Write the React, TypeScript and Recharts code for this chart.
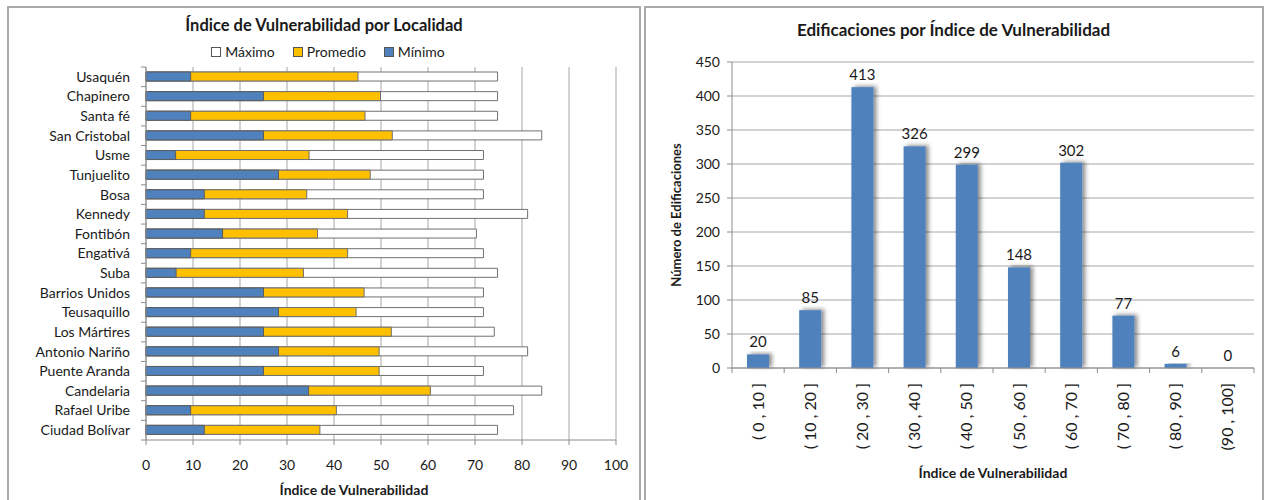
import { BarChart, Bar, XAxis, YAxis, CartesianGrid, LabelList } from "recharts";

// Índice de vulnerabilidad por localidad (mínimo, promedio y máximo)
const localidades = [
  "Usaquén", "Chapinero", "Santa fé", "San Cristobal", "Usme", "Tunjuelito", "Bosa",
  "Kennedy", "Fontibón", "Engativá", "Suba", "Barrios Unidos", "Teusaquillo",
  "Los Mártires", "Antonio Nariño", "Puente Aranda", "Candelaria", "Rafael Uribe", "Ciudad Bolívar",
];
const maximo = [74.8, 74.8, 74.8, 84.2, 71.8, 71.8, 71.8, 81.2, 70.3, 71.8, 74.8, 71.8, 71.8, 74.1, 81.2, 71.8, 84.2, 78.2, 74.8];
const promedio = [45.1, 49.9, 46.6, 52.4, 34.7, 47.7, 34.2, 42.9, 36.5, 42.9, 33.5, 46.4, 44.7, 52.2, 49.6, 49.6, 60.5, 40.5, 37.0];
const minimo = [9.5, 25.0, 9.5, 25.0, 6.3, 28.2, 12.4, 12.4, 16.3, 9.5, 6.4, 25.0, 28.2, 25.0, 28.2, 25.0, 34.6, 9.5, 12.4];
const indiceTicks = [0, 10, 20, 30, 40, 50, 60, 70, 80, 90, 100];

// Número de edificaciones por rango del índice
const rangos = [
  "( 0 , 10 ]", "( 10 , 20 ]", "( 20 , 30 ]", "( 30 , 40 ]", "( 40 , 50 ]",
  "( 50 , 60 ]", "( 60 , 70 ]", "( 70 , 80 ]", "( 80 , 90 ]", "(90 , 100]",
];
const edificaciones = [20, 85, 413, 326, 299, 148, 302, 77, 6, 0];
const conteoTicks = [0, 50, 100, 150, 200, 250, 300, 350, 400, 450];

const localData = localidades.map((nombre, i) => ({
  nombre,
  maximo: maximo[i],
  promedio: promedio[i],
  minimo: minimo[i],
}));
const rangoData = rangos.map((rango, i) => ({ rango, total: edificaciones[i] }));

const FONT = "Lato, 'Open Sans', sans-serif";
const TEXT = "#1a1a1a";
const GRID = "#a6a6a6";
const AXIS = "#8c8c8c";
const AZUL = "#4F81BD";
const AMARILLO = "#FFC000";

// geometry of the left chart
const L_W = 632;
const L_H = 493;
const L_TOP = 60;
const L_AXIS_W = 138;
const L_RIGHT = 24;
const L_XAXIS_H = 56;
const L_BOTTOM = 4;
const L_BAND = (L_H - L_TOP - L_XAXIS_H - L_BOTTOM) / localidades.length;
const L_TICK_MARGIN = 16;

// geometry of the right chart
const R_W = 617;
const R_H = 493;
const R_TOP = 55;
const R_AXIS_W = 87;
const R_RIGHT = 8;
const R_XAXIS_H = 110;
const R_BOTTOM = 22;
const R_BAND = (R_W - R_AXIS_W - R_RIGHT) / rangos.length;
const R_TICK_MARGIN = 15;

// category label plus the small tick marks between categories
const LocalidadTick = (props: any) => {
  const { x, y, payload, index } = props;
  const ax = x + L_TICK_MARGIN;
  const last = index === localidades.length - 1;
  return (
    <g>
      <text x={x} y={y} dy="0.35em" textAnchor="end" fontSize={14} fill={TEXT} fontFamily={FONT}>
        {payload.value}
      </text>
      <line x1={ax - 5} x2={ax} y1={y - L_BAND / 2} y2={y - L_BAND / 2} stroke={AXIS} />
      {last && <line x1={ax - 5} x2={ax} y1={y + L_BAND / 2} y2={y + L_BAND / 2} stroke={AXIS} />}
    </g>
  );
};

const RangoTick = (props: any) => {
  const { x, y, payload, index } = props;
  const ay = y - R_TICK_MARGIN;
  const last = index === rangos.length - 1;
  return (
    <g>
      <line x1={x - R_BAND / 2} x2={x - R_BAND / 2} y1={ay} y2={ay + 5} stroke={AXIS} />
      {last && <line x1={x + R_BAND / 2} x2={x + R_BAND / 2} y1={ay} y2={ay + 5} stroke={AXIS} />}
      <text
        x={x}
        y={y}
        dy="0.35em"
        textAnchor="end"
        transform={`rotate(-90, ${x}, ${y})`}
        fontSize={16}
        fill={TEXT}
        fontFamily={FONT}
      >
        {payload.value}
      </text>
    </g>
  );
};

const SombraBar = (props: any) => {
  const { x, y, width, height, fill } = props;
  if (!height) return null;
  return <rect x={x} y={y} width={width} height={height} fill={fill} filter="url(#sombra)" />;
};

const legendItems = [
  { name: "Máximo", color: "#ffffff" },
  { name: "Promedio", color: AMARILLO },
  { name: "Mínimo", color: AZUL },
];

const panel = (left: number, width: number): React.CSSProperties => ({
  position: "absolute",
  left,
  top: 6,
  width,
  height: 520,
  border: "2px solid #a9a9a9",
  boxSizing: "border-box",
  background: "#fff",
});

const axisTitle = { fontSize: 14, fontWeight: 700, fill: TEXT, fontFamily: FONT };

export default function App() {
  return (
    <div style={{ position: "fixed", left: 0, top: 0, width: 1268, height: 500, overflow: "hidden", background: "#fff", fontFamily: FONT }}>
      <div style={panel(7, 634)} />
      <div style={panel(644, 620)} />

      <div style={{ position: "absolute", left: 8, top: 15, width: L_W, textAlign: "center", fontWeight: 700, fontSize: 16.5, color: TEXT }}>
        Índice de Vulnerabilidad por Localidad
      </div>
      <div style={{ position: "absolute", left: 12, top: 43, width: L_W, display: "flex", justifyContent: "center", gap: 18, fontSize: 14, color: TEXT }}>
        {legendItems.map((it) => (
          <div key={it.name} style={{ display: "flex", alignItems: "center", gap: 4 }}>
            <span style={{ width: 8, height: 8, background: it.color, border: "1px solid #555", display: "inline-block" }} />
            {it.name}
          </div>
        ))}
      </div>

      <div style={{ position: "absolute", left: 8, top: 7 }}>
        <BarChart
          width={L_W}
          height={L_H}
          data={localData}
          layout="vertical"
          barSize={9}
          barGap={-9}
          margin={{ top: L_TOP, right: L_RIGHT, bottom: L_BOTTOM, left: 0 }}
        >
          <CartesianGrid horizontal={false} stroke={GRID} />
          <XAxis
            xAxisId="top"
            orientation="top"
            type="number"
            domain={[0, 100]}
            height={0}
            tick={false}
            tickLine={false}
            axisLine={{ stroke: GRID }}
          />
          <XAxis
            type="number"
            domain={[0, 100]}
            ticks={indiceTicks}
            height={L_XAXIS_H}
            tickSize={5}
            tickMargin={15}
            stroke={AXIS}
            tick={{ fontSize: 14, fill: TEXT, fontFamily: FONT }}
          />
          <YAxis
            type="category"
            dataKey="nombre"
            width={L_AXIS_W}
            tickSize={0}
            tickMargin={L_TICK_MARGIN}
            stroke={AXIS}
            interval={0}
            tick={<LocalidadTick />}
          />
          <Bar dataKey="maximo" name="Máximo" fill="#ffffff" stroke="#707070" strokeWidth={1} isAnimationActive={false} />
          <Bar dataKey="promedio" name="Promedio" fill={AMARILLO} stroke="#707070" strokeWidth={1} isAnimationActive={false} />
          <Bar dataKey="minimo" name="Mínimo" fill={AZUL} stroke="#5c5c5c" strokeWidth={1} isAnimationActive={false} />
        </BarChart>
      </div>
      {/* x axis title of the left chart */}
      <div style={{ position: "absolute", left: 254, top: 481, width: 200, textAlign: "center", fontWeight: 700, fontSize: 14, color: TEXT }}>
        Índice de Vulnerabilidad
      </div>

      <div style={{ position: "absolute", left: 645, top: 19, width: R_W, textAlign: "center", fontWeight: 700, fontSize: 17, color: TEXT }}>
        Edificaciones por Índice de Vulnerabilidad
      </div>

      <div style={{ position: "absolute", left: 645, top: 7 }}>
        <BarChart
          width={R_W}
          height={R_H}
          data={rangoData}
          barSize={22}
          margin={{ top: R_TOP, right: R_RIGHT, bottom: R_BOTTOM, left: 0 }}
        >
          <defs>
            <filter id="sombra" x="-50%" y="-20%" width="200%" height="140%">
              <feDropShadow dx={3} dy={-1} stdDeviation={2} floodColor="#000" floodOpacity={0.45} />
            </filter>
          </defs>
          <CartesianGrid vertical={false} stroke={GRID} yAxisId="izq" />
          <XAxis
            dataKey="rango"
            height={R_XAXIS_H}
            tickSize={0}
            tickMargin={R_TICK_MARGIN}
            stroke={AXIS}
            interval={0}
            tick={<RangoTick />}
            label={{ value: "Índice de Vulnerabilidad", position: "insideBottom", offset: 0, ...axisTitle }}
          />
          <YAxis
            yAxisId="izq"
            domain={[0, 450]}
            ticks={conteoTicks}
            width={R_AXIS_W}
            tickSize={5}
            tickMargin={7}
            stroke={AXIS}
            tick={{ fontSize: 14, fill: TEXT, fontFamily: FONT }}
            label={{
              value: "Número de Edificaciones",
              angle: -90,
              position: "insideLeft",
              offset: 31,
              ...axisTitle,
              fontSize: 13,
              style: { textAnchor: "middle" },
            }}
          />
          <YAxis
            yAxisId="der"
            orientation="right"
            domain={[0, 450]}
            width={0}
            tick={false}
            tickLine={false}
            axisLine={{ stroke: GRID }}
          />
          <Bar yAxisId="izq" dataKey="total" fill={AZUL} shape={<SombraBar />} isAnimationActive={false}>
            <LabelList dataKey="total" position="top" offset={7} fontSize={15} fill={TEXT} fontFamily={FONT} />
          </Bar>
        </BarChart>
      </div>
    </div>
  );
}
